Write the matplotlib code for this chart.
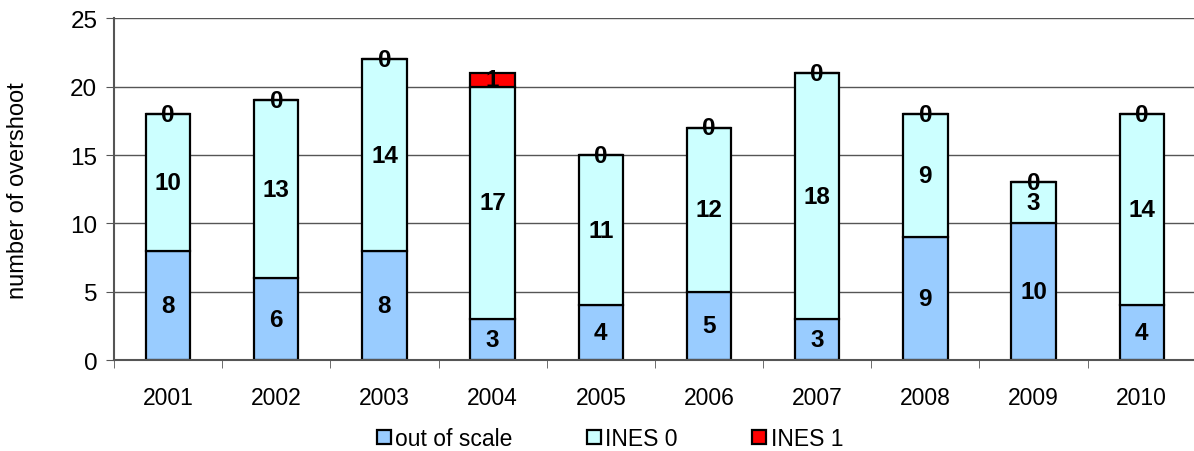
import numpy as np
import matplotlib
matplotlib.use("Agg")
import matplotlib.pyplot as plt

plt.rcParams['font.family'] = ['Liberation Sans', 'DejaVu Sans']

years = ['2001', '2002', '2003', '2004', '2005', '2006', '2007', '2008', '2009', '2010']
out_of_scale = [8, 6, 8, 3, 4, 5, 3, 9, 10, 4]
ines0 = [10, 13, 14, 17, 11, 12, 18, 9, 3, 14]
ines1 = [0, 0, 0, 1, 0, 0, 0, 0, 0, 0]

fig = plt.figure(figsize=(11.94, 4.52), dpi=100)
ax = fig.add_axes([0.0955, 0.2013, 0.906, 0.7556])

x = np.arange(len(years))
w = 0.41
edge = dict(edgecolor='black', linewidth=1.6)
ax.bar(x, out_of_scale, w, color='#99CCFF', label='out of scale', **edge)
ax.bar(x, ines0, w, bottom=out_of_scale, color='#CCFFFF', label='INES 0', **edge)
bottom2 = np.array(out_of_scale) + np.array(ines0)
ax.bar(x, ines1, w, bottom=bottom2, color='#FF0000', label='INES 1', **edge)

# labels in the middle of each segment
for i in range(len(years)):
    ax.text(x[i], out_of_scale[i] / 2, str(out_of_scale[i]), ha='center', va='center',
            fontsize=17.5, fontweight='bold')
    ax.text(x[i], out_of_scale[i] + ines0[i] / 2, str(ines0[i]), ha='center', va='center',
            fontsize=17.5, fontweight='bold')
    ax.text(x[i], bottom2[i] + ines1[i] / 2, str(ines1[i]), ha='center', va='center',
            fontsize=17.5, fontweight='bold')

ax.set_xlim(-0.5, len(years) - 0.5)
ax.set_ylim(0, 25)
ax.set_yticks([0, 5, 10, 15, 20, 25])
ax.set_xticks(x)
ax.set_xticklabels(years)
ax.set_xticks(np.arange(len(years) + 1) - 0.5, minor=True)
ax.tick_params(axis='x', which='major', length=0, pad=19, labelsize=16.5)
ax.tick_params(axis='x', which='minor', length=6, color='#555555')
ax.tick_params(axis='y', length=6, labelsize=17.5, color='#555555', pad=6)
ax.set_ylabel('number of overshoot', fontsize=17, labelpad=30)

ax.yaxis.grid(True, color='#555555', linewidth=1)
ax.set_axisbelow(True)
for s in ['top', 'right']:
    ax.spines[s].set_visible(False)
ax.spines['left'].set_color('#555555')
ax.spines['left'].set_linewidth(1.5)
ax.spines['bottom'].set_color('#555555')
ax.spines['bottom'].set_linewidth(1.5)

fig.legend(loc='center', bbox_to_anchor=(0.511, 0.027), ncol=3, frameon=False,
           fontsize=16.5, handlelength=0.6, handleheight=0.6, handletextpad=0.2,
           columnspacing=3.25, borderpad=0.1)

fig.savefig('out.png', dpi=100)
